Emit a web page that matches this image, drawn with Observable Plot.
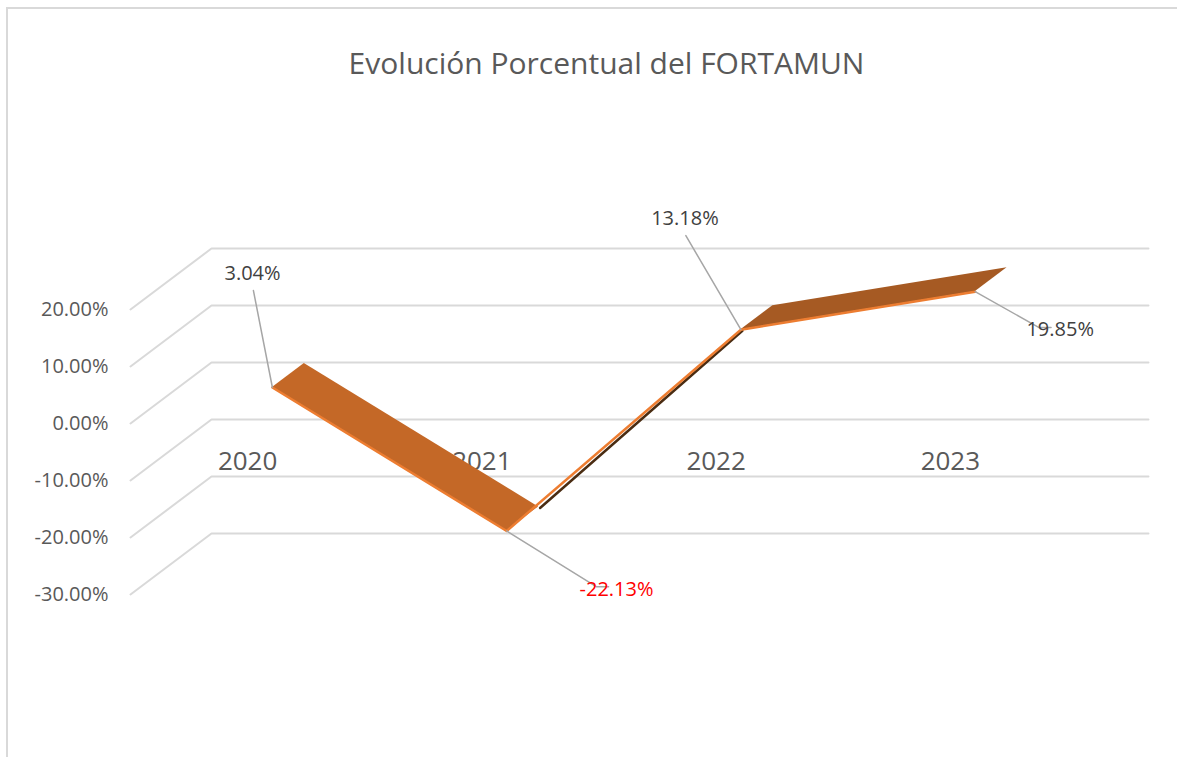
<!DOCTYPE html>
<html lang="es">
<head>
<meta charset="utf-8">
<script src="https://cdn.jsdelivr.net/npm/d3@7"></script>
<script src="https://cdn.jsdelivr.net/npm/@observablehq/plot@0.6"></script>
<style>
html,body{margin:0;padding:0;background:#fff;overflow:hidden;width:1177px;height:757px}
#edge{position:absolute;left:6px;top:7px;right:0;bottom:0;border-top:2px solid #D9D9D9;border-left:2px solid #D9D9D9}
#chart{position:absolute;left:0;top:0}
#chart svg{display:block;font-family:"Open Sans",sans-serif}
</style>
</head>
<body>
<div id="edge"></div>
<div id="chart"></div>
<script>
const chartTitle = "Evolución Porcentual del FORTAMUN";
const years = [2020, 2021, 2022, 2023];
const values = [3.04, -22.13, 13.18, 19.85];
const valueLabels = ["3.04%", "-22.13%", "13.18%", "19.85%"];
const labelColors = ["#404040", "#FF0000", "#404040", "#404040"];
const yTicks = [-30, -20, -10, 0, 10, 20];
const ribbonColors = ["#C46827", "#4A2C12", "#A65A23"];

// Pseudo-3D: a step into the chart's depth moves a point right and up, in scale units
const xEdges = [2019.5, 2023.5];
const depthYears = 0.3457, depthValue = 10.7;
const ribbonFront = 0.306, ribbonBack = 0.70;
const at = (year, value, depth) => ({x: year + depth * depthYears, y: value + depth * depthValue});

// Leader lines and label anchors, as offsets from each ribbon point (years, percent points)
const leaderX = [[-0.081], [0.384, 0.435], [-0.235], [0.273, 0.324]];
const leaderY = [[17.0], [-9.8, -9.8], [16.5], [-6.3, -6.3]];
const labelX = [-0.085, 0.469, -0.239, 0.363];
const labelY = [20.0, -10.2, 19.5, -6.67];
const labelAnchor = ["middle", "start", "middle", "start"];

const gridRows = yTicks.flatMap(v => [
  {v, ...at(xEdges[0], v, 0)},
  {v, ...at(xEdges[0], v, 1)},
  {v, ...at(xEdges[1], v, 1)}
]);
const ribbonRows = years.slice(0, -1).flatMap((_, i) => [i, i + 1].map(j => {
  const f = at(years[j], values[j], ribbonFront), b = at(years[j], values[j], ribbonBack);
  return {seg: i, x1: f.x, y1: f.y, x2: b.x, y2: b.y};
}));
const frontRows = years.map((yr, i) => at(yr, values[i], ribbonFront));
const darkRows = [at(years[1], values[1], ribbonBack), at(years[2], values[2], ribbonFront)];
const leaderRows = years.flatMap((yr, i) => {
  const p = at(yr, values[i], ribbonFront);
  return [p, ...leaderX[i].map((dx, k) => ({x: p.x + dx, y: p.y + leaderY[i][k]}))].map(q => ({i, ...q}));
});
const labelRows = years.map((yr, i) => {
  const p = at(yr, values[i], ribbonFront);
  return {x: p.x + labelX[i], y: p.y + labelY[i], text: valueLabels[i], fill: labelColors[i], anchor: labelAnchor[i]};
});

const plot = Plot.plot({
  width: 1177, height: 757,
  marginLeft: 130, marginRight: 110, marginTop: 309, marginBottom: 163,
  style: {background: "transparent", overflow: "visible"},
  x: {domain: xEdges},
  y: {domain: [-30, 20]},
  marks: [
    Plot.line(gridRows, {x: "x", y: "y", z: "v", stroke: "#D9D9D9", strokeWidth: 2, curve: "linear"}),
    Plot.axisY({ticks: yTicks, tickSize: 0, tickPadding: 22, label: null, fontSize: 20, color: "#595959",
      tickFormat: d => d.toFixed(2) + "%"}),
    Plot.axisX({ticks: years, tickSize: 0, tickPadding: 0, label: null, fontSize: 26, color: "#595959",
      tickFormat: d => String(d), dy: -143}),
    Plot.area(ribbonRows.filter(d => d.seg === 2), {x1: "x1", y1: "y1", x2: "x2", y2: "y2", fill: ribbonColors[2]}),
    Plot.line(darkRows, {x: "x", y: "y", stroke: ribbonColors[1], strokeWidth: 2.5, dx: 1.5, dy: 1}),
    Plot.area(ribbonRows.filter(d => d.seg === 0), {x1: "x1", y1: "y1", x2: "x2", y2: "y2", fill: ribbonColors[0]}),
    Plot.line(frontRows, {x: "x", y: "y", stroke: "#ED7D31", strokeWidth: 2.5}),
    Plot.line(leaderRows, {x: "x", y: "y", z: "i", stroke: "#A6A6A6", strokeWidth: 1.5}),
    Plot.text(labelRows, {x: "x", y: "y", text: "text", fill: "fill", textAnchor: "anchor", fontSize: 20}),
    Plot.text([chartTitle], {frameAnchor: "top", dx: 7.5, dy: -257, fontSize: 30, fill: "#595959"})
  ]
});
document.getElementById("chart").append(plot);
</script>
</body>
</html>
